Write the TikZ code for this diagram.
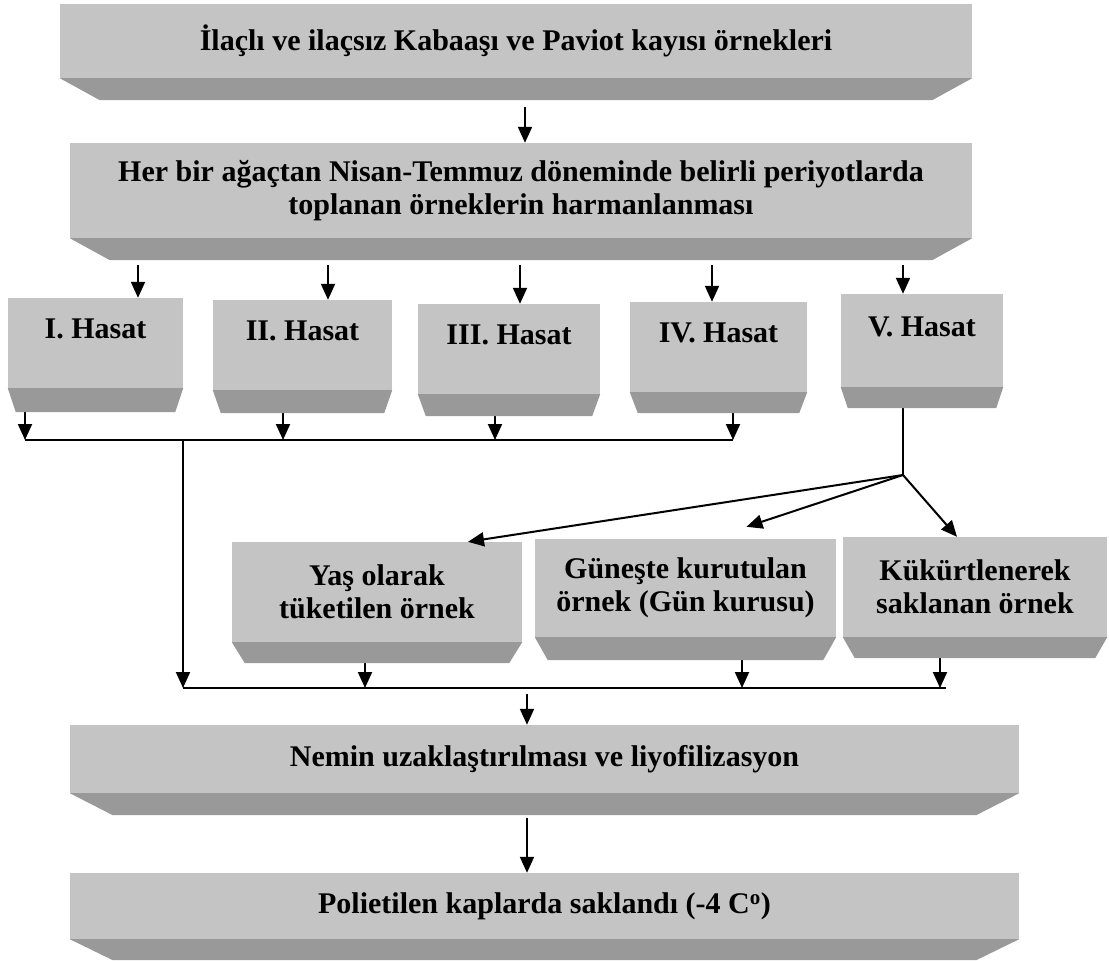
\documentclass[tikz,border=0pt]{standalone}
\usepackage{fontspec}
\setmainfont{Liberation Serif}
\usetikzlibrary{arrows.meta}

\definecolor{yuzgri}{HTML}{C4C4C4}
\definecolor{altgri}{HTML}{999999}

\tikzset{
  kutu/.style={fill=yuzgri, inner sep=0pt, align=center,
    font=\bfseries\fontsize{30}{33}\selectfont},
  hasat/.style={kutu, text depth=28pt},
  ok/.style={line width=2pt, -{Triangle[width=14pt,length=16pt]}},
  cizgi/.style={line width=2pt},
  alt/.style={fill=altgri}
}

\begin{document}
\begin{tikzpicture}[x=1pt,y=-1pt]
\useasboundingbox (0,0) rectangle (1109,961);
%kutular
\node[kutu, minimum width=912, minimum height=74] (b1) at (516,41) {İlaçlı ve ilaçsız Kabaaşı ve Paviot kayısı örnekleri};
\node[kutu, minimum width=902, minimum height=95] (b2) at (521,190.5) {Her bir ağaçtan Nisan-Temmuz döneminde belirli periyotlarda\\toplanan örneklerin harmanlanması};

\node[hasat, minimum width=175, minimum height=90] (h1) at (95.5,343) {I. Hasat};
\node[hasat, minimum width=179, minimum height=90] (h2) at (302.5,345) {II. Hasat};
\node[hasat, minimum width=182, minimum height=90] (h3) at (509,349) {III. Hasat};
\node[hasat, minimum width=177, minimum height=90] (h4) at (718.5,347) {IV. Hasat};
\node[hasat, minimum width=162, minimum height=93] (h5) at (922,340.5) {V. Hasat};

\node[kutu, minimum width=290, minimum height=100] (y1) at (377,592) {Yaş olarak\\tüketilen örnek};
\node[kutu, minimum width=301, minimum height=98] (g1) at (685.5,588) {Güneşte kurutulan\\örnek (Gün kurusu)};
\node[kutu, minimum width=264, minimum height=100] (k1) at (975,587) {Kükürtlenerek\\saklanan örnek};

\node[kutu, minimum width=949, minimum height=68] (n1) at (544.5,759) {Nemin uzaklaştırılması ve liyofilizasyon};
\node[kutu, minimum width=949, minimum height=66] (p1) at (544.5,906) {Polietilen kaplarda saklandı (-4 C\textsuperscript{o})};

%oklar
\coordinate (a1) at (525,107);
\draw[ok] (a1) -- (a1 |- b2.north);
\foreach \i/\x in {1/138,2/328,3/520,4/712,5/903}{
  \coordinate (t\i) at (\x,265);
  \draw[ok] (t\i) -- (t\i |- h\i.north);
}

% hasat I-IV toplama
\coordinate (u1) at (25,440);
\coordinate (u0) at (183,440);
\coordinate (u2) at (283,440);
\coordinate (u3) at (495,440);
\coordinate (u4) at (733,440);
\draw[ok] (h1.south -| u1) -- (u1);
\draw[ok] (h2.south -| u2) -- (u2);
\draw[ok] (h3.south -| u3) -- (u3);
\draw[ok] (h4.south -| u4) -- (u4);
\draw[cizgi] (u1) -- (u4);

\coordinate (v0) at (183,688);
\coordinate (v1) at (365,688);
\coordinate (v2) at (742,688);
\coordinate (v3) at (940,688);
\coordinate (v4) at (946,688);
\draw[ok] (u0) -- (v0);
\draw[cizgi] (v0) -- (v4);
\draw[ok] (y1.south -| v1) -- (v1);
\draw[ok] (g1.south -| v2) -- (v2);
\draw[ok] (k1.south -| v3) -- (v3);

% V. hasat dallanma
\coordinate (j) at (903,475);
\draw[cizgi] (h5.south -| j) -- (j);
\draw[ok] (j) -- ([xshift=91pt]y1.north);
\draw[ok] (j) -- ([shift={(61pt,12pt)}]g1.north);
\draw[ok] (j) -- ([xshift=-18pt]k1.north);

\coordinate (w) at (527,694);
\draw[ok] (w) -- (w |- n1.north);
\coordinate (a2) at (527,818);
\draw[ok] (a2) -- (a2 |- p1.north);

%alt yuzler
\foreach \n/\dx/\dy in {b1/40/22,b2/40/22,h1/8/24,h2/8/23,h3/8/22,h4/8/21,h5/7/21,
    y1/13/21,g1/13/23,k1/12/21,n1/43/22,p1/43/21}{
  \fill[alt] (\n.south west) -- (\n.south east) -- ([shift={(-\dx pt,-\dy pt)}]\n.south east)
    -- ([shift={(\dx pt,-\dy pt)}]\n.south west) -- cycle;
}
\end{tikzpicture}
\end{document}
